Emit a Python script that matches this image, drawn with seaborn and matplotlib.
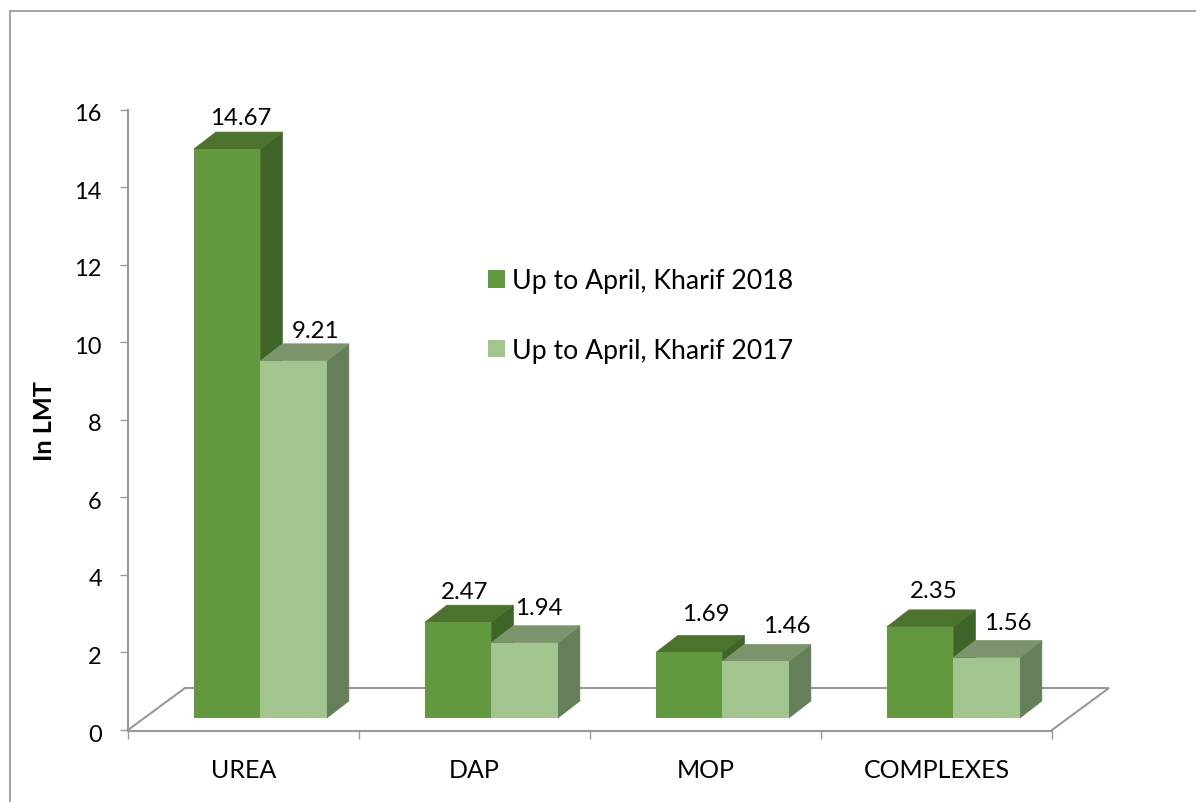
import matplotlib
matplotlib.use("Agg")
import matplotlib.pyplot as plt
from matplotlib.lines import Line2D
from matplotlib.patches import Polygon
from matplotlib.transforms import ScaledTranslation
import pandas as pd
import seaborn as sns

categories = ["UREA", "DAP", "MOP", "COMPLEXES"]
series_names = ["Up to April, Kharif 2018", "Up to April, Kharif 2017"]
kharif_2018 = [14.67, 2.47, 1.69, 2.35]
kharif_2017 = [9.21, 1.94, 1.46, 1.56]

W, H = 1196, 803
AX_L, AX_R, AX_T, AX_B = 128, 1052, 110.5, 731
PX_X = (AX_R - AX_L) / 4      # pixels per category
PX_Y = (AX_B - AX_T) / 16     # pixels per unit
GRAY = "#999999"
FRONT = ["#62993e", "#a2c58f"]
TOP = ["#4c732e", "#7b946c"]
SIDE = ["#3f6428", "#647f59"]
FONT = "Lato"

sns.set_theme(style="white")
plt.rcParams["font.family"] = [FONT, "DejaVu Sans"]

df = pd.DataFrame({
    "category": categories * 2,
    "series": [series_names[0]] * 4 + [series_names[1]] * 4,
    "value": kharif_2018 + kharif_2017,
})

fig = plt.figure(figsize=(W / 100, H / 100), dpi=100, facecolor="white")
ax = fig.add_axes([AX_L / W, 1 - AX_B / H, (AX_R - AX_L) / W, (AX_B - AX_T) / H])
ax.patch.set_alpha(0)

sns.barplot(data=df, x="category", y="value", hue="series", palette=FRONT,
            width=133 / PX_X, gap=0, saturation=1, ax=ax,
            linewidth=0, zorder=5)

BAR_LIFT = 12 / PX_Y
for cont in ax.containers:
    for p in cont.patches:
        p.set_y(p.get_y() + BAR_LIFT)

shift = 0.073
ax.set_xlim(-0.5 - shift, 3.5 - shift)
ax.set_ylim(0, 16)

# floor of the 3D box
fx, fy = 57 / PX_X, 42 / PX_Y
x0, x1 = ax.get_xlim()
ax.plot([x0, x0 + fx, x1 + fx, x1], [0, fy, fy, 0], color=GRAY, lw=1.5,
        clip_on=False, zorder=1, solid_joinstyle="miter")

# depth faces derived from the bars themselves
dx, dy = 22 / PX_X, 17 / PX_Y
for k, cont in enumerate(ax.containers):
    for p in cont.patches:
        xa, xb = p.get_x(), p.get_x() + p.get_width()
        ya, yb = p.get_y(), p.get_y() + p.get_height()
        ax.add_patch(Polygon([(xb, ya), (xb + dx, ya + dy), (xb + dx, yb + dy), (xb, yb)],
                             closed=True, fc=SIDE[k], ec=SIDE[k], lw=0.5,
                             zorder=2 + k, clip_on=False))
        ax.add_patch(Polygon([(xa, yb), (xa + dx, yb + dy), (xb + dx, yb + dy), (xb, yb)],
                             closed=True, fc=TOP[k], ec=TOP[k], lw=0.5,
                             zorder=2 + k, clip_on=False))

# value labels: offsets in pixels from the centre of the bar's top edge
offsets = [[(14, 32), (7, 31), (17, 39), (14, 36)],
           [(21.5, 30), (14, 35), (31, 36), (21, 35)]]
for k, (cont, vals) in enumerate(zip(ax.containers, [kharif_2018, kharif_2017])):
    for p, v, (ox, oy) in zip(cont.patches, vals, offsets[k]):
        ax.annotate(f"{v:.2f}", (p.get_x() + p.get_width() / 2, p.get_y() + p.get_height()),
                    xytext=(ox * 0.72, oy * 0.72), textcoords="offset points",
                    ha="center", va="center", fontsize=17.3, color="black",
                    annotation_clip=False, zorder=8)

# axes styling
for s in ("top", "right"):
    ax.spines[s].set_visible(False)
for s in ("left", "bottom"):
    ax.spines[s].set_color(GRAY)
    ax.spines[s].set_linewidth(1.5)
ax.spines["bottom"].set_position(("outward", 1))

ax.set_yticks(range(0, 17, 2))
ax.tick_params(axis="y", left=True, length=5.8, width=1.0, color=GRAY, pad=13,
               labelsize=17, labelcolor="black")
down = ScaledTranslation(0, -1.5 / 72, fig.dpi_scale_trans)
for lab in ax.get_yticklabels():
    lab.set_transform(lab.get_transform() + down)
ax.set_xticks([i - shift for i in range(4)])
ax.set_xticklabels(categories)
ax.set_xticks([x0 + i for i in range(5)], minor=True)
ax.tick_params(axis="x", which="major", bottom=False, length=0, pad=19,
               labelsize=18, labelcolor="black")
ax.tick_params(axis="x", which="minor", bottom=True, length=5.8, width=1.0, color=GRAY)
ax.set_xlabel("")
ax.set_ylabel("")
fig.text(45 / W, 1 - 421 / H, "In LMT", rotation=90, ha="center", va="center",
         fontsize=18.3, fontweight="bold", color="black")

# legend
handles, labels = ax.get_legend_handles_labels()
ax.legend(handles, labels, loc="upper left", bbox_to_anchor=(480 / W, 1 - 261.5 / H),
          bbox_transform=fig.transFigure, frameon=False, fontsize=19.2,
          labelcolor="black", handlelength=0.64, handleheight=0.64, handletextpad=0.26,
          labelspacing=1.66, borderpad=0.3, borderaxespad=0)

# outer frame of the chart: top and left edges only
frame = dict(transform=fig.transFigure, color="#8c8c8c", lw=1.1)
fig.add_artist(Line2D([9.5 / W, 1], [1 - 11.5 / H] * 2, **frame))
fig.add_artist(Line2D([9.5 / W] * 2, [0, 1 - 11.5 / H], **frame))

fig.savefig("out.png", dpi=100)
